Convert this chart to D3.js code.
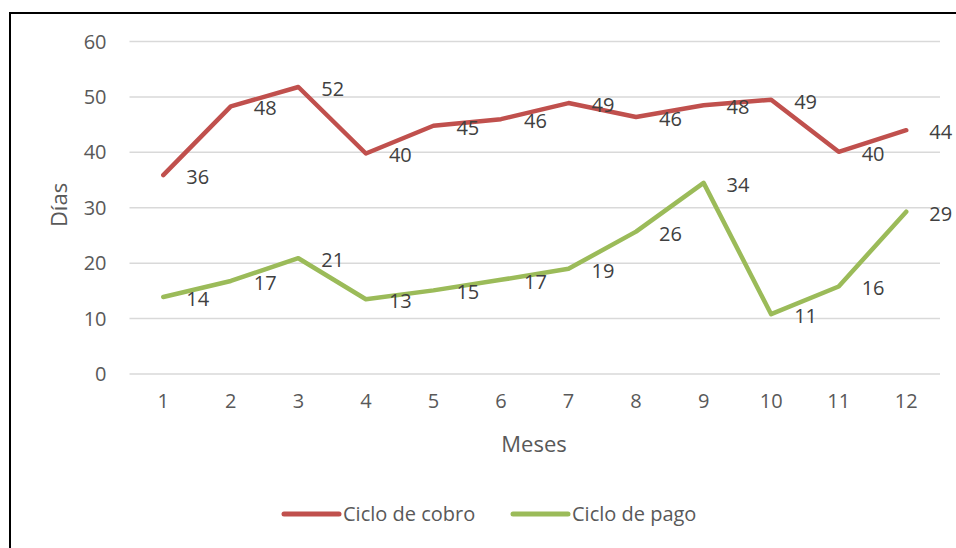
<!DOCTYPE html>
<html>
<head>
<meta charset="utf-8">
<script src="https://cdn.jsdelivr.net/npm/d3@7"></script>
<style>
  body { margin: 0; background: #fff; }
  text { font-family: "Open Sans", sans-serif; fill: #595959; }
</style>
</head>
<body>
<svg class="root"></svg>
<script>
var months = ["1", "2", "3", "4", "5", "6", "7", "8", "9", "10", "11", "12"];
var cobro = [35.8, 48.2, 51.7, 39.7, 44.7, 45.9, 48.8, 46.3, 48.4, 49.4, 40.0, 43.9];
var pago = [13.8, 16.7, 20.8, 13.4, 15.0, 16.9, 18.9, 25.6, 34.4, 10.7, 15.7, 29.2];
var yTicks = [0, 10, 20, 30, 40, 50, 60];

var series = [
  { name: "Ciclo de cobro", values: cobro, color: "#c0504d" },
  { name: "Ciclo de pago", values: pago, color: "#9bbb59" }
];

var W = 956, H = 548,
    margin = { top: 41, right: 16, bottom: 175, left: 129.5 },
    width = 940 - margin.left,
    height = 373.5 - margin.top;

var svg = d3.select(".root")
    .attr("width", W)
    .attr("height", H);

// chart border (only top and left visible in the frame)
svg.append("path")
    .attr("d", "M10,560 L10,13 L970,13")
    .attr("fill", "none")
    .attr("stroke", "#000")
    .attr("stroke-width", 2);

var g = svg.append("g")
    .attr("transform", "translate(" + margin.left + "," + margin.top + ")");

var x = d3.scaleBand()
    .domain(months)
    .range([0, width]);

var y = d3.scaleLinear()
    .domain([0, 60])
    .range([height, 0]);

// gridlines + y labels
var yAxis = d3.axisLeft(y)
    .tickValues(yTicks)
    .tickSize(-width)
    .tickPadding(23);

g.append("g")
    .attr("class", "y axis")
    .call(yAxis)
    .call(s => s.select(".domain").remove())
    .call(s => s.selectAll("line").attr("stroke", "#d9d9d9").attr("stroke-width", 1.5))
    .call(s => s.selectAll("text").attr("font-size", 20).attr("fill", "#595959")
        .style("font-family", "Open Sans, sans-serif").attr("dy", "0.35em"));

var xAxis = d3.axisBottom(x).tickSize(0).tickPadding(20);

g.append("g")
    .attr("transform", "translate(0," + height + ")")
    .call(xAxis)
    .call(s => s.select(".domain").remove())
    .call(s => s.selectAll("text").attr("font-size", 20).attr("fill", "#595959")
        .style("font-family", "Open Sans, sans-serif"));

var line = d3.line()
    .x((d, i) => x(months[i]) + x.bandwidth() / 2)
    .y(d => y(d));

series.forEach((s) => {
  g.append("path")
      .datum(s.values)
      .attr("fill", "none")
      .attr("stroke", s.color)
      .attr("stroke-width", 4.5)
      .attr("stroke-linejoin", "round")
      .attr("stroke-linecap", "round")
      .attr("d", line);

  g.selectAll(null)
      .data(s.values)
    .enter().append("text")
      .attr("x", (d, i) => x(months[i]) + x.bandwidth() / 2 + 23)
      .attr("y", d => y(d) + 2)
      .attr("dy", "0.35em")
      .attr("font-size", 20)
      .style("fill", "#404040")
      .text(d => Math.round(d));
});

// axis titles
svg.append("text")
    .attr("transform", "translate(59,205) rotate(-90)")
    .attr("text-anchor", "middle")
    .attr("dy", "0.35em")
    .attr("font-size", 22)
    .text("Días");

svg.append("text")
    .attr("x", 534)
    .attr("y", 444)
    .attr("text-anchor", "middle")
    .attr("dy", "0.35em")
    .attr("font-size", 22)
    .text("Meses");

// legend
var legendX = [284, 513];
var legend = svg.selectAll(".legend")
    .data(series)
  .enter().append("g")
    .attr("class", "legend")
    .attr("transform", (d, i) => "translate(" + legendX[i] + ",514)");

legend.append("line")
    .attr("x1", 0).attr("x2", 55)
    .attr("stroke", d => d.color)
    .attr("stroke-width", 5)
    .attr("stroke-linecap", "round");

legend.append("text")
    .attr("x", 59)
    .attr("dy", "0.35em")
    .attr("font-size", 20)
    .text(d => d.name);
</script>
</body>
</html>
